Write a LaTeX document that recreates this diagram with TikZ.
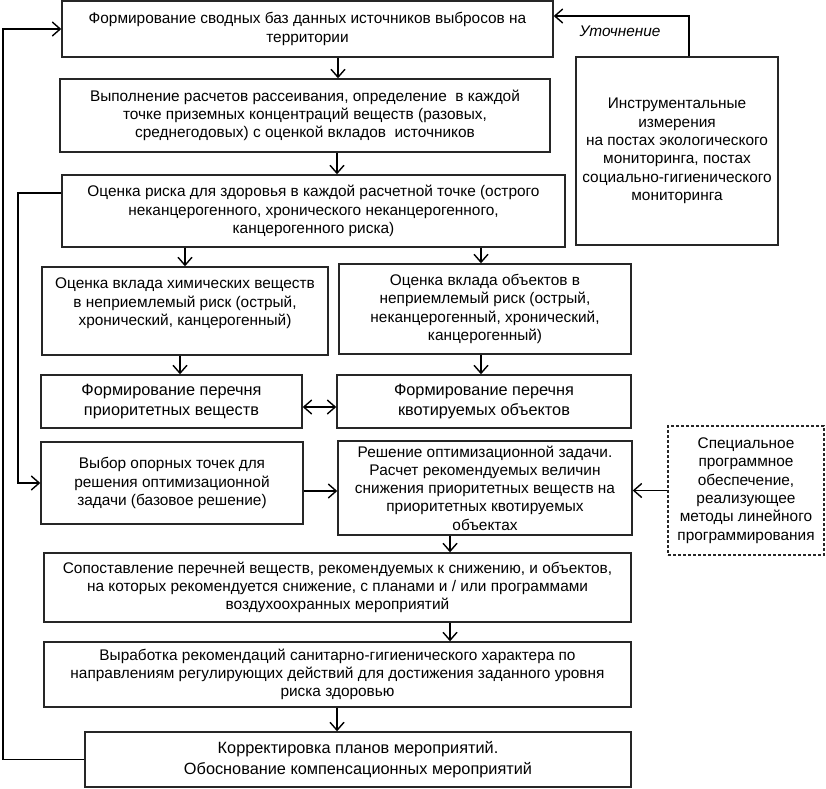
\documentclass[tikz,border=0pt]{standalone}
\usepackage{fontspec}
\setmainfont{Liberation Sans}
\usetikzlibrary{arrows.meta}
\begin{document}
\begin{tikzpicture}[x=1pt,y=-1pt,
  box/.style={draw=black!85, line width=1.4pt, rectangle, inner sep=0pt, align=center,
    font=\fontsize{15.4}{18.3}\selectfont},
  bigbox/.style={box, font=\fontsize{16.3}{20.5}\selectfont},
  dbox/.style={box, dash pattern=on 3pt off 2pt, line width=1.2pt},
  tip/.style={},
  arr/.style={line width=1.4pt, -{Straight Barb[length=8pt,width=14pt,line width=1.4pt]}},
  darr/.style={line width=1.4pt, {Straight Barb[length=8pt,width=14pt,line width=1.4pt]}-{Straight Barb[length=8pt,width=14pt,line width=1.4pt]}},
  fb/.style={line width=1.2pt, -{Straight Barb[length=8pt,width=14pt,line width=1.4pt]}},
  lab/.style={font=\fontsize{15.4}{18}\selectfont\itshape, inner sep=0pt}]
\useasboundingbox (0,0) rectangle (826,788);

\node[box, minimum width=491pt, minimum height=56pt] (b1) at (307.5,29)
  {Формирование сводных баз данных источников выбросов на\\территории};
\node[box, minimum width=490pt, minimum height=73pt] (b2) at (305,115.5)
  {Выполнение расчетов рассеивания, определение\ \ в каждой\\точке приземных концентраций веществ (разовых,\\среднегодовых) с оценкой вкладов\ \ источников};
\node[box, minimum width=503pt, minimum height=72pt] (b3) at (313.5,211)
  {Оценка риска для здоровья в каждой расчетной точке (острого\\неканцерогенного, хронического неканцерогенного,\\канцерогенного риска)};
\node[box, minimum width=286pt, minimum height=88pt] (b4) at (185,311)
  {Оценка вклада химических веществ\\в неприемлемый риск (острый,\\хронический, канцерогенный)\\\mbox{}};
\node[box, minimum width=292pt, minimum height=90pt] (b5) at (485,309)
  {Оценка вклада объектов в\\неприемлемый риск (острый,\\неканцерогенный, хронический,\\канцерогенный)};
\node[bigbox, minimum width=261pt, minimum height=53pt] (b6) at (171.5,401.5)
  {Формирование перечня\\приоритетных веществ};
\node[bigbox, minimum width=294pt, minimum height=53pt] (b7) at (484,401.5)
  {Формирование перечня\\квотируемых объектов};
\node[box, minimum width=262pt, minimum height=82pt] (b8) at (172,483)
  {Выбор опорных точек для\\решения оптимизационной\\задачи (базовое решение)};
\node[box, minimum width=294pt, minimum height=94pt] (b9) at (485,488)
  {Решение оптимизационной задачи.\\Расчет рекомендуемых величин\\снижения приоритетных веществ на\\приоритетных квотируемых\\объектах};
\node[dbox, minimum width=156pt, minimum height=129pt] (b10) at (746,490.5)
  {Специальное\\программное\\обеспечение,\\реализующее\\методы линейного\\программирования};
\node[box, minimum width=587pt, minimum height=69pt] (b11) at (337.5,587.5)
  {Сопоставление перечней веществ, рекомендуемых к снижению, и объектов,\\на которых рекомендуется снижение, с планами и / или программами\\воздухоохранных мероприятий};
\node[box, minimum width=587pt, minimum height=65pt] (b12) at (337.5,674.5)
  {Выработка рекомендаций санитарно-гигиенического характера по\\направлениям регулирующих действий для достижения заданного уровня\\риска здоровью};
\node[bigbox, minimum width=546pt, minimum height=55pt] (b13) at (358,759.5)
  {Корректировка планов мероприятий.\\Обоснование компенсационных мероприятий};
\node[box, minimum width=202pt, minimum height=188pt] (b14) at (677,151)
  {Инструментальные\\измерения\\на постах экологического\\мониторинга, постах\\социально-гигиенического\\мониторинга};
\node[lab] (ut) at (620,31) {Уточнение};

\coordinate (c338) at (338,0);
\coordinate (c337) at (337,0);
\coordinate (c185) at (185,0);
\coordinate (c481) at (481,0);
\coordinate (c180) at (180,0);
\coordinate (c450) at (450,0);
\coordinate (c689) at (689,0);
\coordinate (lx) at (3,0);
\coordinate (lx2) at (18,0);
\coordinate (b8o) at ([yshift=-8pt]b8.east);
\coordinate (b6o) at ([yshift=-5.5pt]b6.east);
\coordinate (b3o) at ([yshift=18pt]b3.west);
\coordinate (b1o) at ([yshift=13pt]b1.east);

\draw[arr] (b1.south -| c338) -- (b2.north -| c338);
\draw[arr] (b2.south -| c337) -- (b3.north -| c337);
\draw[arr] (b3.south -| c185) -- (b4.north -| c185);
\draw[arr] (b3.south -| c481) -- (b5.north -| c481);
\draw[arr] (b4.south -| c180) -- (b6.north -| c180);
\draw[arr] (b5.south -| c481) -- (b7.north -| c481);
\draw[darr] (b6o) -- (b7.west |- b6o);
\draw[arr] (b8o) -- (b9.west |- b8o);
\draw[arr] (b10.west) -- (b9.east |- b10.west);
\draw[arr] (b9.south -| c450) -- (b11.north -| c450);
\draw[arr] (b11.south -| c450) -- (b12.north -| c450);
\draw[arr] (b12.south -| c337) -- (b13.north -| c337);
\draw[fb] (b13.west) -- (b13.west -| lx) |- (b1.west);
\draw[fb] (b3o) -- (b3o -| lx2) |- (b8.west);
\draw[arr] (b14.north -| c689) |- (b1o);
\end{tikzpicture}
\end{document}
